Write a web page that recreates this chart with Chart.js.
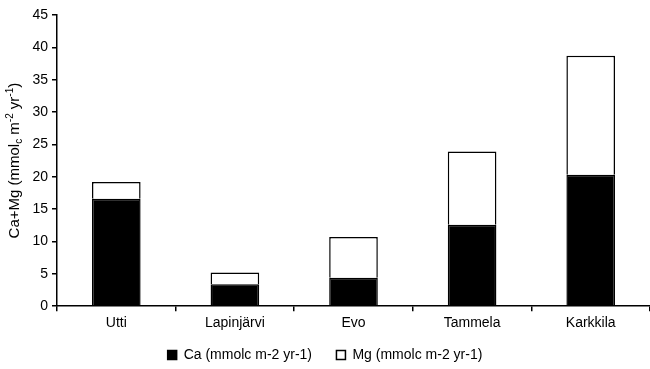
<!DOCTYPE html>
<html>
<head>
<meta charset="utf-8">
<script src="https://cdn.jsdelivr.net/npm/chart.js@4/dist/chart.umd.min.js"></script>
<style>
  body { margin: 0; background: #fff; }
</style>
</head>
<body>
<canvas id="grafica" width="650" height="369"></canvas>
<script>
// datos
const sitios = ['Utti', 'Lapinjärvi', 'Evo', 'Tammela', 'Karkkila'];
const valoresCa = [16.6, 3.4, 4.4, 12.6, 20.3];
const valoresMg = [2.6, 1.8, 6.3, 11.3, 18.4];
const ticksY = [0, 5, 10, 15, 20, 25, 30, 35, 40, 45];

const fuente = "'Liberation Sans', Arial, sans-serif";

// titulo del eje y con subindice y superindices, pintado a mano
const tituloEjeY = {
  id: 'tituloEjeY',
  afterDraw(chart) {
    const ctx = chart.ctx;
    const area = chart.chartArea;
    const partes = [
      { t: 'Ca+Mg (mmol', k: 'n' },
      { t: 'c', k: 'sub' },
      { t: ' m', k: 'n' },
      { t: '-2', k: 'sup' },
      { t: ' yr', k: 'n' },
      { t: '-1', k: 'sup' },
      { t: ')', k: 'n' }
    ];
    const tamN = 15, tamS = 10;
    ctx.save();
    let ancho = 0;
    partes.forEach(p => {
      ctx.font = (p.k === 'n' ? tamN : tamS) + 'px ' + fuente;
      ancho += ctx.measureText(p.t).width;
    });
    ctx.translate(15, (area.top + area.bottom) / 2);
    ctx.rotate(-Math.PI / 2);
    ctx.fillStyle = '#000';
    ctx.textBaseline = 'middle';
    let x = -ancho / 2;
    partes.forEach(p => {
      ctx.font = (p.k === 'n' ? tamN : tamS) + 'px ' + fuente;
      let dy = 0;
      if (p.k === 'sub') dy = 4;
      if (p.k === 'sup') dy = -5;
      ctx.fillText(p.t, x, dy);
      x += ctx.measureText(p.t).width;
    });
    ctx.restore();
  }
};

// bajamos un poco la leyenda
const bajarLeyenda = {
  id: 'bajarLeyenda',
  afterLayout(chart) {
    const lg = chart.legend;
    if (lg && !lg._bajada) {
      const original = lg.draw.bind(lg);
      lg.draw = function (...args) {
        chart.ctx.save();
        chart.ctx.translate(0, 3);
        original(...args);
        chart.ctx.restore();
      };
      lg._bajada = true;
    }
  }
};

const ctx = document.getElementById('grafica').getContext('2d');
new Chart(ctx, {
  type: 'bar',
  data: {
    labels: sitios,
    datasets: [
      {
        label: 'Ca (mmolc m-2 yr-1)     ',
        data: valoresCa,
        backgroundColor: '#000000',
        borderColor: '#000000',
        borderWidth: 1.5
      },
      {
        label: 'Mg (mmolc m-2 yr-1)',
        data: valoresMg,
        backgroundColor: '#ffffff',
        borderColor: '#000000',
        borderWidth: 1.5
      }
    ]
  },
  options: {
    responsive: false,
    animation: false,
    layout: { padding: { top: 15, right: 0, left: 0, bottom: 0 } },
    plugins: {
      tooltip: { enabled: false },
      legend: {
        position: 'bottom',
        labels: {
          color: '#000',
          boxWidth: 9,
          boxHeight: 9,
          padding: 5,
          font: { family: fuente, size: 14 }
        }
      }
    },
    scales: {
      x: {
        stacked: true,
        afterFit: scale => { scale.height += 4; },
        grid: { display: true, drawOnChartArea: false, offset: true, color: '#000', tickLength: 5, lineWidth: 1.5 },
        border: { color: '#000', width: 1.5 },
        ticks: { color: '#000', padding: 4, maxRotation: 0, font: { family: fuente, size: 14 } }
      },
      y: {
        stacked: true,
        min: 0,
        max: 45,
        afterBuildTicks: scale => { scale.ticks = ticksY.map(v => ({ value: v })); },
        afterFit: scale => { scale.width = 57; },
        grid: { display: true, drawOnChartArea: false, color: '#000', tickLength: 5, lineWidth: 1.5 },
        border: { color: '#000', width: 1.5 },
        ticks: { color: '#000', padding: 4, font: { family: fuente, size: 14 } }
      }
    },
    datasets: { bar: { categoryPercentage: 1, barPercentage: 0.41 } }
  },
  plugins: [tituloEjeY, bajarLeyenda]
});
</script>
</body>
</html>
